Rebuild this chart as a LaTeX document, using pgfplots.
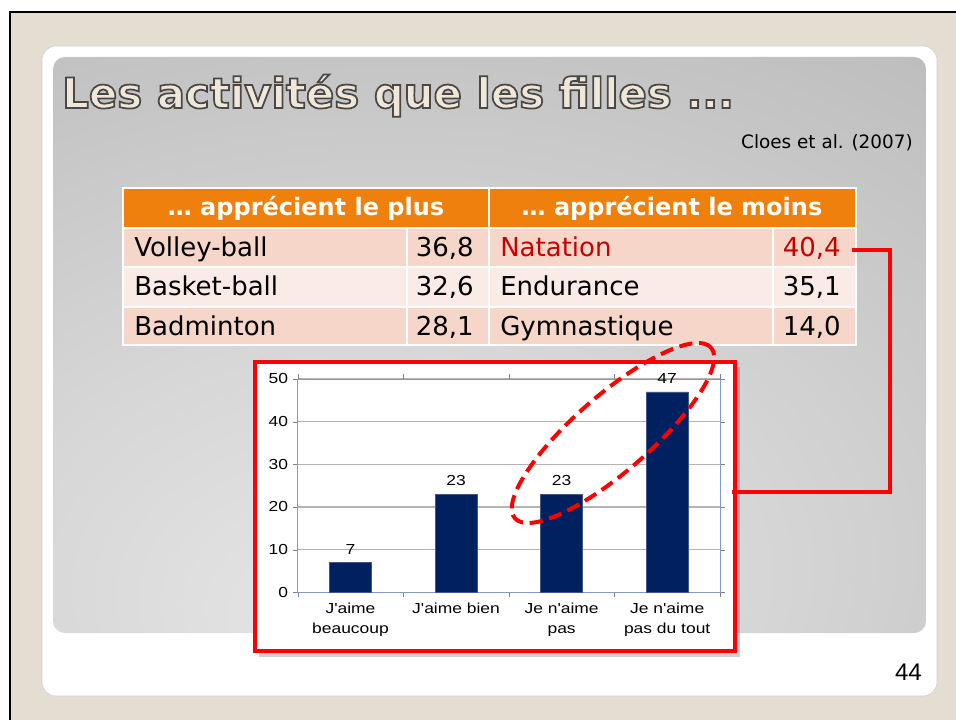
\documentclass[border=0pt]{standalone}
\usepackage{fontspec}
\setmainfont{DejaVu Sans}
\newfontfamily\chartfont[FakeStretch=1.2,Ligatures=TeXOff]{Liberation Sans}
\newfontfamily\arialfont{Liberation Sans}
\usepackage{pgfplots}
\pgfplotsset{compat=1.18}

\definecolor{beigebg}{HTML}{E3DDD2}
\definecolor{titlefill}{HTML}{EEE7DA}
\definecolor{hdr}{HTML}{F0800C}
\definecolor{rowA}{HTML}{F7D6CA}
\definecolor{rowB}{HTML}{FBEBE6}
\definecolor{natred}{HTML}{C80000}
\definecolor{barblue}{HTML}{002060}
\definecolor{axblue}{HTML}{7F9CC4}
\definecolor{gridgray}{HTML}{B4B4B4}
\definecolor{shA}{HTML}{E6E6E6}
\definecolor{shB}{HTML}{D6D6D6}
\definecolor{shC}{HTML}{B8B8B8}
\definecolor{shD}{HTML}{A0A0A0}
\pgfdeclareradialshading{panelshade}{\pgfpoint{-8bp}{-25bp}}{color(0bp)=(shA); color(22bp)=(shB); color(55bp)=(shC); color(85bp)=(shD); color(110bp)=(shD)}

\newcommand\rowfont{\fontsize{19.5pt}{23pt}\selectfont}
\newcommand\hdrfont{\fontsize{18pt}{22pt}\selectfont}
\newcommand\chartfs{\chartfont\fontsize{10.9pt}{15pt}\selectfont}

\begin{document}
\begin{tikzpicture}
\begin{scope}[x=0.75pt,y=-0.75pt]
  \path[use as bounding box, fill=white] (0,0) rectangle (956,720);
  \fill[beigebg] (10,12) rectangle (956,720);
  \draw[black, line width=1.5pt] (10,720) -- (10,12) -- (956,12);
  % card
  \draw[gray!40, fill=white, rounded corners=10.5pt] (42,46) rectangle (937,696);
  % panel
  \shade[shading=panelshade, rounded corners=9pt] (53,57) rectangle (926,633);
  % title
  \node[anchor=base west, inner sep=0pt, text=titlefill, font=\bfseries\fontsize{31.4pt}{36pt}\selectfont] at (62,108)
    {\special{pdf:literal direct 2 Tr 1.3 w 0.29 0.28 0.27 RG}Les activités que les filles ...\special{pdf:literal direct 0 Tr}};
  \node[anchor=base east, inner sep=0pt, font=\fontsize{13.8pt}{16pt}\selectfont] at (913,149) {Cloes et al. (2007)};
  % table
  \fill[white] (122,187) rectangle (857,346);
  \fill[hdr] (124,189) rectangle (488,227);
  \fill[hdr] (490,189) rectangle (855,227);
  \foreach \ya/\yb/\c in {229/266/rowA, 268/306/rowB, 308/344/rowA}{
    \fill[\c] (124,\ya) rectangle (406,\yb);
    \fill[\c] (408,\ya) rectangle (488,\yb);
    \fill[\c] (490,\ya) rectangle (772,\yb);
    \fill[\c] (774,\ya) rectangle (855,\yb);
  }
  \node[anchor=base, inner sep=0pt, text=white, font=\bfseries\hdrfont] at (306,216) {… apprécient le plus};
  \node[anchor=base, inner sep=0pt, text=white, font=\bfseries\hdrfont] at (672,216) {… apprécient le moins};
  \foreach \y/\na/\va/\nb/\vb in {257/Volley-ball/{36,8}/{}/{}, 296/Basket-ball/{32,6}/Endurance/{35,1}, 335/Badminton/{28,1}/Gymnastique/{14,0}}{
    \node[anchor=base west, inner sep=0pt, font=\rowfont] at (134,\y) {\na};
    \node[anchor=base east, inner sep=0pt, font=\rowfont] at (474,\y) {\va};
    \node[anchor=base west, inner sep=0pt, font=\rowfont] at (500,\y) {\nb};
    \node[anchor=base east, inner sep=0pt, font=\rowfont] at (841,\y) {\vb};
  }
  \node[anchor=base west, inner sep=0pt, text=natred, font=\rowfont] at (500,257) {Natation};
  \node[anchor=base east, inner sep=0pt, text=natred, font=\rowfont] at (841,257) {40,4};
  % chart box
  \fill[black, opacity=0.18] (259,367) rectangle (740,657);
  \draw[red, line width=3pt, fill=white] (255,362) rectangle (735,651);
  \coordinate (plotorigin) at (297.7,592.3);
\end{scope}

\begin{axis}[
  at={(plotorigin)}, anchor=south west,
  scale only axis, width=316.7pt, height=160pt,
  xmin=-0.5, xmax=3.5, ymin=0, ymax=50,
  ytick={0,10,20,30,40,50},
  xtick={0,1,2,3},
  xticklabels={{J'aime\\beaucoup},{J'aime bien},{Je n'aime\\pas},{Je n'aime\\pas du tout}},
  minor xtick={-0.5,0.5,1.5,2.5,3.5},
  every major x tick/.append style={draw=none},
  tick align=outside,
  major tick length=3.75pt, minor tick length=3.75pt,
  tick style={gray},
  x tick label style={align=center, font=\chartfs, yshift=-1pt},
  y tick label style={font=\chartfs, xshift=0pt},
  /pgf/number format/assume math mode=true,
  ymajorgrids, grid style={gridgray, line width=0.8pt},
  axis line style={axblue},
  nodes near coords,
  every node near coord/.append style={font=\chartfs, text=black, yshift=2.5pt},
  clip=false,
]
\addplot[ybar, bar width=31.5pt, fill=barblue, draw=barblue!75!white] coordinates {(0,7) (1,23) (2,23) (3,47)};
\end{axis}

\begin{scope}[x=0.75pt,y=-0.75pt]
  \draw[red, line width=3pt] (852,250) -- (890,250) -- (890,491.5) -- (732,491.5);
  \draw[red, line width=3pt, dash pattern=on 10pt off 5pt, rotate around={41:(613,433)}] (613,433) ellipse [x radius=97.5pt, y radius=28.5pt];
  \node[anchor=base east, inner sep=0pt, font=\arialfont\fontsize{18pt}{20pt}\selectfont] at (922,680) {44};
\end{scope}
\end{tikzpicture}
\end{document}
